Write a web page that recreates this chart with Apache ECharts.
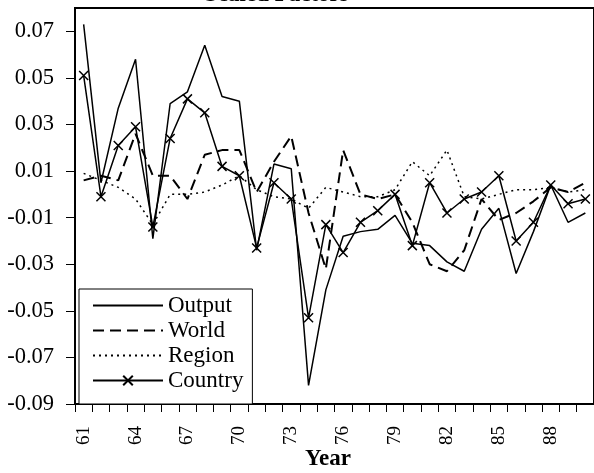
<!DOCTYPE html>
<html>
<head>
<meta charset="utf-8">
<script src="https://cdn.jsdelivr.net/npm/echarts@6/dist/echarts.min.js"></script>
<style>html,body{margin:0;padding:0;background:#fff;}#c{width:594px;height:473px;}</style>
</head>
<body>
<div id="c"></div>
<script>
var years = ['61','62','63','64','65','66','67','68','69','70','71','72','73','74','75','76','77','78','79','80','81','82','83','84','85','86','87','88','89','90'];
var output = [0.073, 0.005, 0.037, 0.058, -0.019, 0.039, 0.044, 0.064, 0.042, 0.040, -0.024, 0.013, 0.011, -0.082, -0.041, -0.018, -0.016, -0.015, -0.009, -0.021, -0.022, -0.029, -0.033, -0.015, -0.006, -0.034, -0.016, 0.004, -0.012, -0.008];
var world = [0.006, 0.008, 0.006, 0.026, 0.008, 0.008, -0.002, 0.017, 0.019, 0.019, 0.001, 0.014, 0.025, -0.008, -0.032, 0.019, 0.000, -0.002, 0.000, -0.012, -0.030, -0.033, -0.024, -0.002, -0.011, -0.008, -0.003, 0.003, 0.001, 0.005];
var region = [0.009, 0.006, 0.003, -0.002, -0.013, 0.000, 0.000, 0.001, 0.004, 0.008, 0.002, -0.001, -0.002, -0.006, 0.003, 0.001, -0.001, -0.001, 0.002, 0.014, 0.008, 0.019, -0.001, -0.002, 0.000, 0.002, 0.002, 0.003, 0.001, 0.002];
var country = [0.051, -0.001, 0.021, 0.029, -0.014, 0.024, 0.041, 0.035, 0.012, 0.008, -0.023, 0.005, -0.002, -0.053, -0.013, -0.025, -0.012, -0.007, 0.000, -0.022, 0.005, -0.008, -0.002, 0.001, 0.008, -0.020, -0.012, 0.004, -0.004, -0.002];
var seriesNames = ['Output', 'World', 'Region', 'Country'];
var titleText = 'Scaled Factors';
var xTitle = 'Year';

var FONT = '"Liberation Serif", "Times New Roman", serif';
var chart = echarts.init(document.getElementById('c'), null, {renderer: 'canvas'});
var xMark = 'path://M0,0L10,10M10,0L0,10';
chart.setOption({
  animation: false,
  backgroundColor: '#fff',
  grid: {left: 75, top: 8, right: -6, bottom: 69, show: true, borderColor: '#000', borderWidth: 2, backgroundColor: 'transparent'},
  xAxis: {
    type: 'category', data: years, boundaryGap: true,
    axisLine: {onZero: false, lineStyle: {color: '#000', width: 2}},
    axisTick: {show: true, interval: 0, length: 8, lineStyle: {color: '#000', width: 1}},
    axisLabel: {interval: 2, rotate: 90, margin: 22, color: '#000', fontFamily: FONT, fontSize: 19},
    splitLine: {show: false}
  },
  yAxis: {
    type: 'value', min: -0.09, max: 0.08, interval: 0.02,
    axisLine: {show: true, onZero: false, lineStyle: {color: '#000', width: 1.5}},
    axisTick: {show: true, length: 9, lineStyle: {color: '#000', width: 1}},
    axisLabel: {showMaxLabel: false, margin: 21, color: '#000', fontFamily: FONT, fontSize: 22.5,
      formatter: function (v) { return v.toFixed(2); }},
    splitLine: {show: false}
  },
  legend: {
    orient: 'vertical', left: 79, top: 289,
    padding: [5, 9, 12, 13],
    itemWidth: 70, itemHeight: 12, itemGap: 2,
    borderColor: '#000', borderWidth: 1, backgroundColor: '#fff', borderRadius: 0,
    textStyle: {fontFamily: FONT, fontSize: 23, color: '#000', lineHeight: 23},
    data: [
      {name: seriesNames[0], itemStyle: {opacity: 0}},
      {name: seriesNames[1], itemStyle: {opacity: 0}},
      {name: seriesNames[2], itemStyle: {opacity: 0}},
      {name: seriesNames[3]}
    ]
  },
  graphic: [
    {type: 'text', left: 205, top: -16, z: 100, zlevel: 1,
     style: {text: titleText, font: 'bold 23px ' + FONT, fill: '#000'}},
    {type: 'text', left: 305, top: 448, z: 10,
     style: {text: xTitle, font: 'bold 23px ' + FONT, fill: '#000'}}
  ],
  series: [
    {name: seriesNames[0], type: 'line', data: output, symbol: 'none',
     lineStyle: {color: '#000', width: 1.5, type: 'solid'}, itemStyle: {color: '#000'}},
    {name: seriesNames[1], type: 'line', data: world, symbol: 'none',
     lineStyle: {color: '#000', width: 2, type: [11, 6]}, itemStyle: {color: '#000'}},
    {name: seriesNames[2], type: 'line', data: region, symbol: 'none',
     lineStyle: {color: '#000', width: 1.5, type: [2, 4]}, itemStyle: {color: '#000'}},
    {name: seriesNames[3], type: 'line', data: country, symbol: xMark, symbolSize: 9, showSymbol: true,
     lineStyle: {color: '#000', width: 1.5, type: 'solid'},
     itemStyle: {color: 'none', borderColor: '#000', borderWidth: 1.5}}
  ]
});
</script>
</body>
</html>
